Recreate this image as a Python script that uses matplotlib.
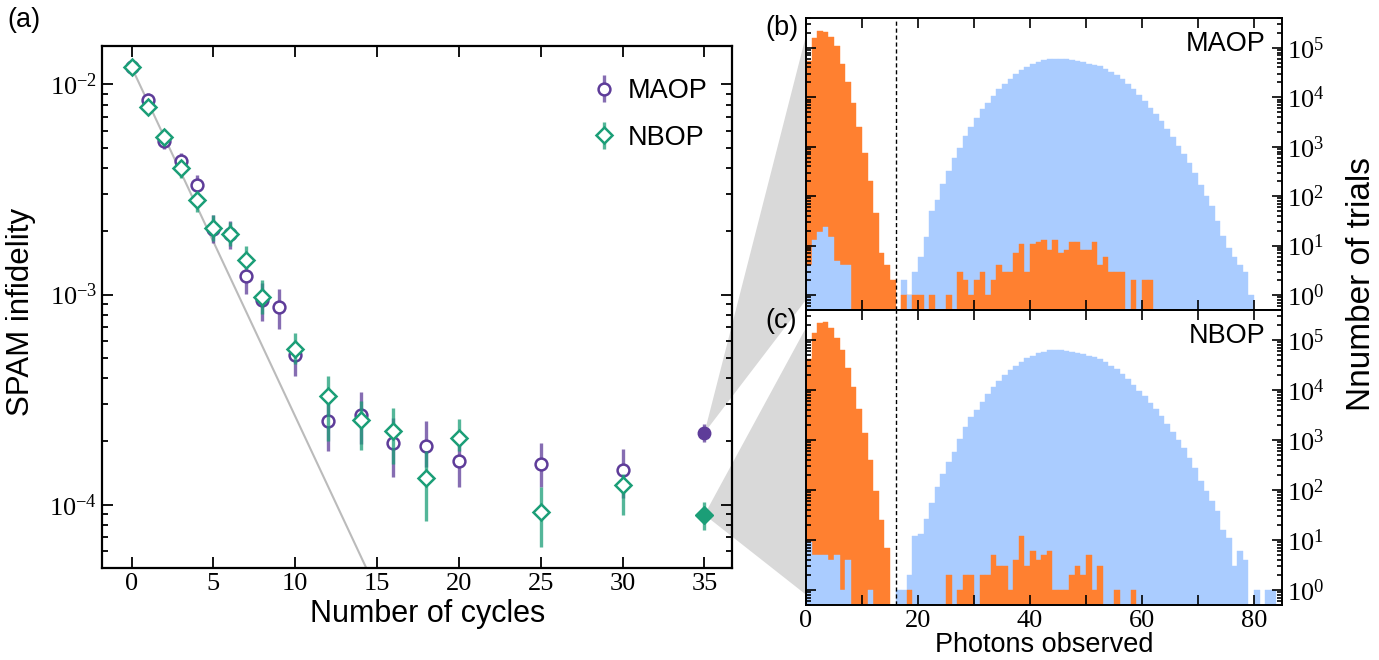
import numpy as np
import matplotlib
matplotlib.use('Agg')
import matplotlib.pyplot as plt
from matplotlib.patches import Polygon
from matplotlib.ticker import LogLocator, FixedLocator, NullFormatter

plt.rcParams['font.family'] = 'serif'
plt.rcParams['font.serif'] = ['Liberation Serif', 'DejaVu Serif']
plt.rcParams['mathtext.fontset'] = 'stix'
plt.rcParams['axes.unicode_minus'] = False
SANS = 'Liberation Sans'
SERIF = 'Liberation Serif'

# ---- panel (a): SPAM infidelity vs number of cycles ----
cyc_maop = [0, 1, 2, 3, 4, 5, 6, 7, 8, 9, 10, 12, 14, 16, 18, 20, 25, 30]
inf_maop = [0.0121, 0.00845, 0.0054, 0.0043, 0.00334, 0.00205, 0.00195, 0.00123, 0.000944,
            0.000877, 0.000516, 0.00025, 0.000268, 0.000197, 0.00019, 0.000161, 0.000156, 0.000146]
lo_maop = [0.0116, 0.00785, 0.00494, 0.00393, 0.00296, 0.00175, 0.00165, 0.00101, 0.000752,
           0.000687, 0.000411, 0.000181, 0.000195, 0.000136, 0.000151, 0.000121, 0.000121, 0.000108]
hi_maop = [0.0126, 0.0091, 0.00604, 0.00471, 0.00372, 0.00238, 0.00223, 0.0014, 0.00114,
           0.00106, 0.0006, 0.00033, 0.000343, 0.00026, 0.000251, 0.000202, 0.000196, 0.000184]

cyc_nbop = [0, 1, 2, 3, 4, 5, 6, 7, 8, 10, 12, 14, 16, 18, 20, 25, 30]
inf_nbop = [0.0121, 0.0078, 0.00565, 0.00402, 0.00281, 0.00207, 0.00195, 0.00146, 0.000977,
            0.000551, 0.00033, 0.000253, 0.000224, 0.000134, 0.000208, 9.23e-5, 0.000124]
lo_nbop = [0.0116, 0.0074, 0.00513, 0.0036, 0.00247, 0.0018, 0.00171, 0.00134, 0.000809,
           0.000469, 0.000202, 0.000183, 0.000157, 8.39e-5, 0.000181, 6.27e-5, 8.93e-5]
hi_nbop = [0.0126, 0.0083, 0.00615, 0.00435, 0.00307, 0.00238, 0.00221, 0.00171, 0.00117,
           0.000658, 0.000411, 0.000313, 0.00029, 0.000181, 0.000256, 0.000121, 0.00014]

# combined (filled) points at 35 cycles: value, low, high
comb_cycle = 35
comb_maop = [0.00022, 0.000198, 0.000242]
comb_nbop = [8.96e-5, 7.6e-5, 0.000103]

# exponential fit of the early cycles
fit_amp = 0.0121
fit_ratio = 0.682

# ---- panels (b), (c): photon count histograms ----
photons = np.arange(85)
dark_maop = [54000, 160000, 220000, 210000, 163000, 107000, 48000, 20000, 7800, 2450,
             735, 200, 45, 7, 4, 2, 0, 1, 1, 1,
             1, 0, 1, 0, 0, 1, 0, 3, 2, 1,
             2, 3, 1, 2, 4, 3, 3, 7, 11, 3,
             11, 12, 13, 8, 13, 7, 8, 12, 12, 8,
             8, 12, 4, 6, 3, 3, 3, 0, 2, 0,
             2, 2, 0, 0, 0, 0, 0, 0, 0, 0,
             0, 0, 0, 0, 0, 0, 0, 0, 0, 0,
             0, 0, 0, 0, 0]
bright_maop = [4, 13, 19, 24, 15, 5, 4, 4, 0, 0,
               0, 0, 0, 0, 0, 0, 0, 2, 1, 3,
               6, 15, 51, 82, 177, 330, 590, 930, 1620, 2520,
               3780, 5700, 7800, 10700, 14500, 18800, 23700, 29000, 35000, 41000,
               46000, 52000, 56000, 58000, 60000, 60000, 59000, 57000, 54000, 51000,
               48000, 45000, 42000, 38000, 33000, 28000, 23000, 18500, 14500, 11000,
               8300, 6200, 4600, 3300, 2300, 1600, 1050, 720, 460, 290,
               170, 100, 62, 32, 16, 9, 6, 4, 3, 1,
               0, 0, 0, 0, 0]
dark_nbop = [41000, 136000, 220000, 230000, 174000, 110000, 63000, 28000, 11400, 4200,
             1360, 405, 97, 25, 7, 0, 0, 0, 1, 0,
             0, 0, 0, 0, 0, 2, 0, 1, 2, 2,
             0, 2, 2, 5, 3, 3, 1, 4, 12, 3,
             6, 4, 5, 6, 1, 1, 1, 2, 3, 2,
             5, 1, 3, 0, 0, 1, 0, 0, 1, 0,
             0, 0, 0, 0, 0, 0, 0, 0, 0, 0,
             0, 0, 0, 0, 0, 0, 0, 0, 0, 0,
             0, 0, 0, 0, 0]
bright_nbop = [9, 5, 5, 5, 4, 5, 1, 4, 0, 0,
               0, 1, 0, 0, 0, 0, 1, 1, 2, 12,
               13, 26, 54, 114, 211, 360, 580, 1070, 1850, 2830,
               4030, 5900, 8300, 11500, 15500, 20000, 24700, 30000, 37000, 43500,
               48000, 54000, 59000, 62000, 62000, 62000, 60000, 58000, 55000, 52000,
               49000, 46000, 42000, 37000, 31000, 26000, 21000, 16500, 12800, 9800,
               7500, 5600, 4200, 3000, 2100, 1450, 980, 680, 440, 270,
               150, 95, 60, 38, 16, 11, 3, 6, 4, 0,
               1, 0, 1, 1, 0]
threshold = 16

C_MAOP = '#5e3c99'
C_NBOP = '#1b9e77'
C_DARK = '#ff8030'
C_BRIGHT = '#aaccff'
GREY = '#d9d9d9'

fig = plt.figure(figsize=(13.79, 6.6), dpi=100)
ax = fig.add_axes([0.074, 0.1394, 0.457, 0.7906])
axb = fig.add_axes([0.5845, 0.5303, 0.3452, 0.4424])
axc = fig.add_axes([0.5845, 0.0833, 0.3452, 0.447])
for a in (ax, axb, axc):
    a.set_facecolor('none')


def errs(v, lo, hi):
    v, lo, hi = np.array(v), np.array(lo), np.array(hi)
    return [v - lo, hi - v]


def serif_ticks(a):
    for t in a.get_xticklabels() + a.get_yticklabels():
        t.set_fontfamily(SERIF)


xf = np.linspace(0, 15, 50)
ax.plot(xf, fit_amp * fit_ratio ** xf, color='#bbbbbb', lw=1.5, zorder=1)

ax.errorbar(cyc_maop, inf_maop, yerr=errs(inf_maop, lo_maop, hi_maop), fmt='o', ms=8.5,
            mfc='white', mec=C_MAOP, mew=1.8, ecolor=C_MAOP, elinewidth=2.4,
            zorder=3, label='MAOP')
ax.errorbar(cyc_nbop, inf_nbop, yerr=errs(inf_nbop, lo_nbop, hi_nbop), fmt='D', ms=8.5,
            mfc='white', mec=C_NBOP, mew=1.8, ecolor=C_NBOP, elinewidth=2.4,
            zorder=4, label='NBOP')
for p, c, m in ((comb_maop, C_MAOP, 'o'), (comb_nbop, C_NBOP, 'D')):
    ax.errorbar([comb_cycle], [p[0]], yerr=[[p[0] - p[1]], [p[2] - p[0]]], fmt=m, ms=9,
                color=c, elinewidth=2.4, zorder=5)
for coll in ax.collections:
    coll.set_alpha(0.75)

ax.set_yscale('log')
ax.set_xlim(-1.8, 36.7)
ax.set_ylim(5e-5, 1.52e-2)
ax.set_xticks(range(0, 36, 5))
ax.tick_params(which='both', direction='in', top=True, right=True, labelsize=19, width=1.3)
ax.tick_params(which='major', length=8)
ax.tick_params(which='minor', length=4.5)
ax.set_xlabel('Number of cycles', fontfamily=SANS, fontsize=22)
ax.xaxis.set_label_coords(0.517, -0.06)
ax.set_ylabel('SPAM infidelity', fontfamily=SANS, fontsize=22.5)
ax.yaxis.set_label_coords(-0.105, 0.49)
leg = ax.legend(loc='upper right', bbox_to_anchor=(1.0, 0.985), frameon=False,
                prop={'family': SANS, 'size': 19.5}, handlelength=0.6, handletextpad=0.6,
                labelspacing=0.75)
for sp in ax.spines.values():
    sp.set_linewidth(1.6)
serif_ticks(ax)


def draw_hist(a, dark, bright, name):
    dark, bright = np.array(dark, float), np.array(bright, float)
    hi = np.maximum(dark, bright)
    lo = np.minimum(dark, bright)
    dark_top = dark >= bright
    hi_col = np.where(dark_top, C_DARK, C_BRIGHT)
    lo_col = np.where(dark_top, C_BRIGHT, C_DARK)
    m = hi > 0
    a.bar(photons[m], hi[m] - 0.1, bottom=0.1, width=1, align='edge', color=hi_col[m],
          edgecolor=hi_col[m], lw=0.3)
    m = lo > 0
    a.bar(photons[m], lo[m] - 0.1, bottom=0.1, width=1, align='edge', color=lo_col[m],
          edgecolor=lo_col[m], lw=0.3)
    a.axvline(threshold, color='k', ls=(0, (3, 2)), lw=1.0)
    a.set_yscale('log')
    a.set_ylim(0.5, 4e5)
    a.set_xlim(0, 85)
    a.xaxis.set_major_locator(FixedLocator([0, 20, 40, 60, 80]))
    a.xaxis.set_minor_locator(FixedLocator([10, 30, 50, 70]))
    a.yaxis.set_major_locator(LogLocator(base=10, numticks=10))
    a.yaxis.set_minor_locator(LogLocator(base=10, subs=np.arange(2, 10), numticks=20))
    a.yaxis.set_minor_formatter(NullFormatter())
    a.tick_params(which='both', direction='in', top=True, bottom=True, left=True, right=True,
                  labelleft=False, labelright=True, labelsize=19, width=1.2)
    a.tick_params(axis='x', which='both', length=7)
    a.tick_params(axis='y', which='major', length=7)
    a.tick_params(axis='y', which='minor', length=3.5)
    a.text(0.965, 0.955, name, transform=a.transAxes, ha='right', va='top',
           fontfamily=SANS, fontsize=19.5)
    for sp in a.spines.values():
        sp.set_linewidth(1.4)
    serif_ticks(a)


draw_hist(axb, dark_maop, bright_maop, 'MAOP')
draw_hist(axc, dark_nbop, bright_nbop, 'NBOP')
axb.tick_params(axis='x', labelbottom=False)
axc.set_xlabel('Photons observed', fontfamily=SANS, fontsize=19.5, labelpad=0)
fig.text(0.987, 0.57, 'Nnumber of trials', rotation=90, ha='center', va='center',
         fontfamily=SANS, fontsize=24)

# zoom wedges from the combined points to the histogram panels
inv = fig.transFigure.inverted()
for p, a in ((comb_maop, axb), (comb_nbop, axc)):
    apex = inv.transform(ax.transData.transform((comb_cycle, p[0])))
    top = inv.transform(a.transAxes.transform((0, 0.94)))
    bot = inv.transform(a.transAxes.transform((0, 0.035)))
    fig.patches.append(Polygon([apex, top, bot], closed=True, transform=fig.transFigure,
                               facecolor=GREY, edgecolor='none', zorder=-1))

fig.text(0.005, 0.99, '(a)', fontfamily=SANS, fontsize=19.5, va='top')
fig.text(0.555, 0.978, '(b)', fontfamily=SANS, fontsize=19.5, va='top')
fig.text(0.555, 0.533, '(c)', fontfamily=SANS, fontsize=19.5, va='top')

fig.savefig('out.png', dpi=100, facecolor='white')
